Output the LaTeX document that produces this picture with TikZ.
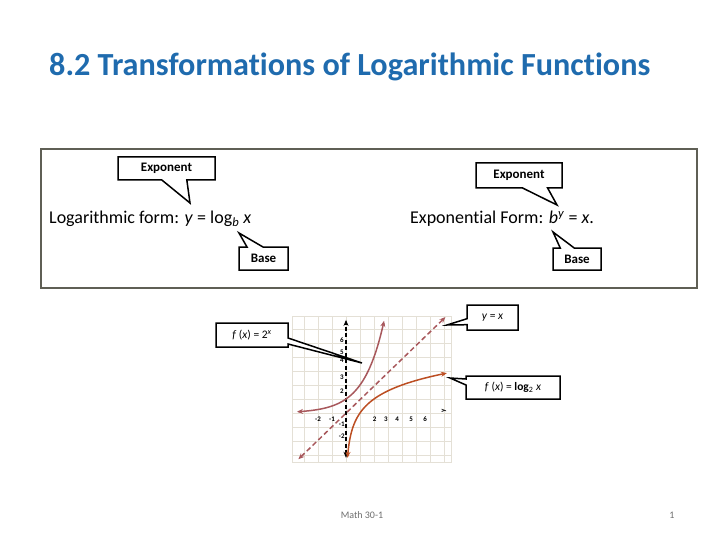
\documentclass[tikz,border=0pt]{standalone}
\usepackage{fontspec}
\setmainfont{Carlito}[Ligatures=NoCommon]
\usetikzlibrary{shapes.callouts, arrows.meta}
\definecolor{titleblue}{RGB}{31,107,174}
\definecolor{framegray}{RGB}{95,95,85}
\definecolor{gridbeige}{RGB}{228,224,214}
\definecolor{rosebrown}{RGB}{168,88,92}
\definecolor{rust}{RGB}{188,78,34}
\definecolor{footgray}{RGB}{110,110,110}

\begin{document}
\begin{tikzpicture}[x=1pt, y=-1pt,
        tag/.style={rectangle callout, draw=black, fill=white, line width=1.5pt, inner sep=0pt, font=\bfseries\fontsize{13}{15}\selectfont},
        fxtag/.style={rectangle callout, draw=black, fill=white, line width=1.5pt, inner sep=0pt, callout pointer width=6pt, font=\fontsize{11.5}{13}\selectfont},
        ticklbl/.style={font=\bfseries\fontsize{7}{8}\selectfont, inner sep=0pt},
        curve/.style={line width=1.5pt, {Stealth[length=6pt,width=5pt]}-{Stealth[length=6pt,width=5pt]}}
    ]
        \useasboundingbox (0,0) rectangle (720,540);

        \node[anchor=west, inner sep=0pt, font=\bfseries\fontsize{32.2}{35}\selectfont, text=titleblue] (TITLE) at (49,67) {8.2 Transformations of Logarithmic Functions};

        % Definition box
        \draw[framegray, line width=2.5pt] (41,149) rectangle (697,288);
        \node[anchor=west, inner sep=0pt, font=\fontsize{18}{20}\selectfont] (LOGFORM) at (49,219) {Logarithmic form: \textit{y} = log\textsubscript{\textit{b}} \textit{x}};
        \node[anchor=west, inner sep=0pt, font=\fontsize{18}{20}\selectfont] (EXPFORM) at (410,219) {Exponential Form: \textit{b}\textsuperscript{\textit{y}} = \textit{x}.};

        \coordinate (EXPLTIP) at (190,203);
        \coordinate (BASELTIP) at (239,233);
        \coordinate (EXPRTIP) at (557,205);
        \coordinate (BASERTIP) at (553,232);
        \node[tag, minimum width=97pt, minimum height=23pt, callout pointer width=25pt, callout absolute pointer={(EXPLTIP)}] (EXPL) at (166.5,168.5) {Exponent};
        \node[tag, minimum width=49pt, minimum height=23pt, callout pointer width=16pt, callout absolute pointer={(BASELTIP)}] (BASEL) at (263.5,258.5) {Base};
        \node[tag, minimum width=86pt, minimum height=25pt, callout pointer width=25pt, callout absolute pointer={(EXPRTIP)}] (EXPR) at (519,175.5) {Exponent};
        \node[tag, minimum width=48pt, minimum height=22pt, callout pointer width=14pt, callout absolute pointer={(BASERTIP)}] (BASER) at (577,259) {Base};

        % Graph
        \begin{scope}[shift={(346,413)}, x=14pt, y=14pt]
            \draw[gridbeige, line width=0.8pt, step=1] (-3.8,-3.5) grid (7.5,6.9);
            \draw[gridbeige, line width=0.8pt] (-3.8,-3.5) rectangle (7.5,6.9);
            \draw[line width=1.8pt, dash pattern=on 4pt off 2.5pt, {Stealth[length=6pt,width=5pt]}-{Stealth[length=6pt,width=5pt]}] (0,-3.2) -- (0,6.65);
            \draw[curve, rosebrown, dash pattern=on 5pt off 3pt] (-3.4,-3.3) -- (7.1,6.85);
            \draw[curve, rosebrown] plot[domain=-3.5:2.72, samples=60, smooth] (\x, {exp(0.693147*\x)});
            \draw[curve, rust] plot[domain=-3.2:2.85, samples=60, smooth] ({exp(0.693147*\x)}, \x);
            \foreach \v/\p in {-2/-2, -1/-1, 2/2.05, 3/2.85, 4/3.65, 5/4.65, 6/5.65}
                \node[ticklbl] at (\p,-0.43) {\v};
            \foreach \v/\p in {6/5.2, 5/4.36, 4/3.8, 3/2.57, 2/1.57, -1/-0.79, -2/-1.64}
                \node[ticklbl] at (-0.3,\p) {\v};
            \node[ticklbl, rotate=90] at (7.0,0.14) {y};
        \end{scope}

        \coordinate (FEXPTIP) at (362,363);
        \coordinate (FIDTIP) at (447,325);
        \coordinate (FLOGTIP) at (450,378);
        \node[fxtag, minimum width=72pt, minimum height=24pt, callout absolute pointer={(FEXPTIP)}] (FEXP) at (252,335) {\textit{f} (\textit{x}) = 2\textsuperscript{\textit{x}}};
        \node[fxtag, minimum width=51pt, minimum height=25pt, callout absolute pointer={(FIDTIP)}] (FID) at (492.5,317.5) {\textit{y} = \textit{x}};
        \node[fxtag, minimum width=94pt, minimum height=23pt, callout absolute pointer={(FLOGTIP)}] (FLOG) at (513,387.5) {\textit{f} (\textit{x}) = \textbf{log}\textsubscript{2} \textit{x}};

        % Footer
        \node[font=\fontsize{10}{12}\selectfont, text=footgray] (MATH) at (362,515) {Math 30-1};
        \node[font=\fontsize{10}{12}\selectfont, text=footgray] (PAGE) at (672,515) {1};
    \end{tikzpicture}
\end{document}
